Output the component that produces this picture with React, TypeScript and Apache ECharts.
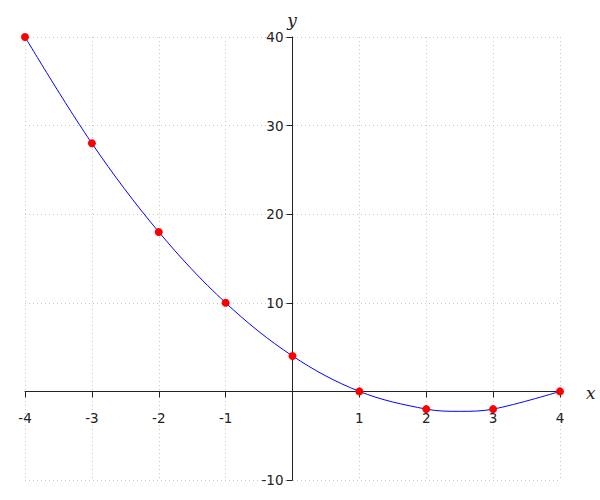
import React, { useEffect, useRef } from "react";
import * as echarts from "echarts";

const xValues = [-4, -3, -2, -1, 0, 1, 2, 3, 4];
const yValues = [40, 28, 18, 10, 4, 0, -2, -2, 0];
// curve vertex (lowest point of the blue curve)
const curveVertex = [2.5, -2.25];
const xTicks = [-4, -3, -2, -1, 0, 1, 2, 3, 4];
const yTicks = [-10, 0, 10, 20, 30, 40];

export default function App() {
  const ref = useRef<HTMLDivElement>(null);
  useEffect(() => {
    if (!ref.current) return;
    const chart = echarts.init(ref.current, null, { renderer: "svg" });
    const pts = xValues.map((x, i) => [x, yValues[i]]);
    const curve = [...pts];
    curve.splice(7, 0, curveVertex);
    const axisColor = "#222";
    const W = 600, H = 500;
    const gl = 25, gr = 40, gt = 37, gb = 20;
    const gw = W - gl - gr, gh = H - gt - gb;
    const xMin = xTicks[0], xMax = xTicks[xTicks.length - 1];
    const yMin = yTicks[0], yMax = yTicks[yTicks.length - 1];
    const xOffset = -gh * (0 - yMin) / (yMax - yMin);
    const yOffset = -gw * (0 - xMin) / (xMax - xMin);
    chart.setOption({
      animation: false,
      backgroundColor: "#fff",
      grid: { left: gl, right: gr, top: gt, bottom: gb, containLabel: false, outerBoundsMode: "none" },
      xAxis: {
        type: "value",
        position: "bottom",
        offset: xOffset,
        min: xMin,
        max: xMax,
        interval: 1,
        axisLine: { onZero: false, lineStyle: { color: axisColor, width: 1 } },
        axisTick: { show: true, length: 6, lineStyle: { color: axisColor } },
        axisLabel: {
          margin: 20,
          fontFamily: "DejaVu Sans",
          fontSize: 13.5,
          color: "#222",
          formatter: (v: number) => (v === 0 ? "" : String(v)),
        },
        splitLine: { show: true, lineStyle: { type: [1, 3], color: "#c8c8c8", width: 1 } },
      },
      yAxis: {
        type: "value",
        position: "left",
        offset: yOffset,
        min: yMin,
        max: yMax,
        interval: 10,
        axisLine: { show: true, onZero: false, lineStyle: { color: axisColor, width: 1 } },
        axisTick: { show: true, length: 6, lineStyle: { color: axisColor } },
        axisLabel: {
          margin: 9,
          fontFamily: "DejaVu Sans",
          fontSize: 13.5,
          color: "#222",
          formatter: (v: number) => (v === 0 ? "" : String(v)),
        },
        splitLine: { show: true, lineStyle: { type: [1, 3], color: "#c8c8c8", width: 1 } },
      },
      graphic: [
        {
          type: "text",
          x: 586,
          y: 393,
          style: {
            text: "x",
            font: "italic 17px 'DejaVu Serif'",
            fill: "#222",
            verticalAlign: "middle",
            align: "left",
          },
        },
        {
          type: "text",
          x: 292,
          y: 20,
          style: {
            text: "y",
            font: "italic 17px 'DejaVu Serif'",
            fill: "#222",
            verticalAlign: "middle",
            align: "center",
          },
        },
      ],
      series: [
        {
          type: "line",
          data: curve,
          smooth: 0.35,
          showSymbol: false,
          symbol: "none",
          lineStyle: { color: "#0000ff", width: 1 },
          z: 2,
        },
        {
          type: "scatter",
          data: pts,
          symbol: "circle",
          symbolSize: 8,
          itemStyle: { color: "#ff0000", opacity: 1 },
          z: 3,
        },
      ],
    });
    return () => chart.dispose();
  }, []);
  return (
    <div
      ref={ref}
      style={{ position: "absolute", left: 0, top: 0, width: 600, height: 500 }}
    />
  );
}
